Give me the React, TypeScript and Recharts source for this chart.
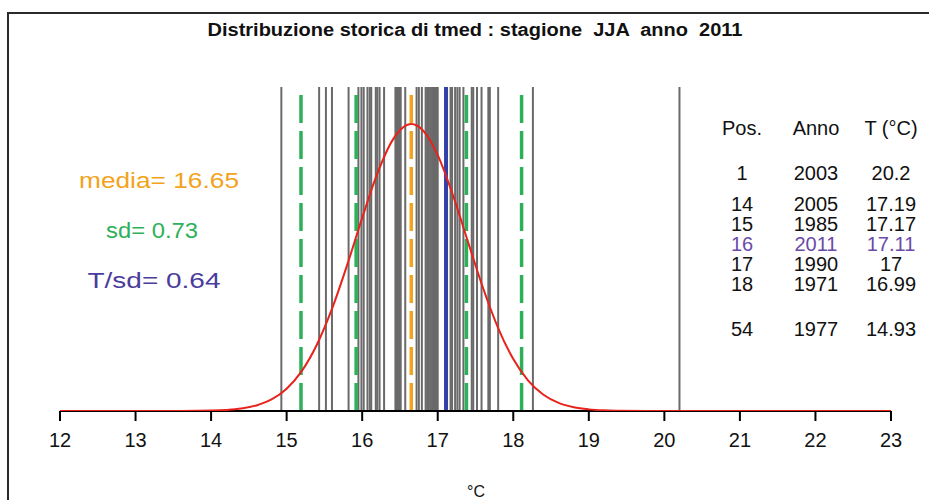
import React from 'react';
import { ComposedChart, Line, XAxis, YAxis, ReferenceLine } from 'recharts';

// Seasonal (JJA) mean temperatures, one per year (54 seasons)
const seasonTemps = [
  20.2, 18.26, 17.8, 17.69, 17.67, 17.58, 17.52, 17.47, 17.45, 17.34, 17.29, 17.26, 17.23,
  17.19, 17.17, 17.11, 17.0, 16.99,
  16.97, 16.96, 16.94, 16.93, 16.91, 16.9, 16.88, 16.86, 16.84, 16.79, 16.75, 16.72,
  16.57, 16.51, 16.5, 16.49, 16.48, 16.47, 16.46, 16.45, 16.44, 16.29, 16.23, 16.2,
  16.18, 16.12, 16.1, 16.07, 16.02, 15.99, 15.95, 15.82, 15.6, 15.52, 15.43, 14.93,
];
const meanT = 16.65;
const currentT = 17.11;
const sdLines = [15.19, 15.92, 17.38, 18.11];

// Normal density curve
const curveX = [12, 13, 13.6, 14.0, 14.2, 14.4, 14.6, 14.8, 15.0, 15.2, 15.4, 15.6, 15.8, 16.0, 16.2, 16.4, 16.6, 16.65, 16.8, 17.0, 17.2, 17.4, 17.6, 17.8, 18.0, 18.2, 18.4, 18.6, 18.8, 19.0, 19.2, 19.4, 19.8, 21, 23];
const curveDensity = [0, 0, 0.0001, 0.0008, 0.002, 0.0047, 0.0106, 0.022, 0.0425, 0.076, 0.1262, 0.1943, 0.2775, 0.3677, 0.452, 0.5154, 0.5452, 0.5465, 0.5351, 0.4872, 0.4115, 0.3224, 0.2343, 0.158, 0.0989, 0.0574, 0.0309, 0.0154, 0.0071, 0.0031, 0.0012, 0.0005, 0.0, 0, 0];

const xTicks = [12, 13, 14, 15, 16, 17, 18, 19, 20, 21, 22, 23];

const statLabels = ['media= 16.65', 'sd= 0.73', 'T/sd= 0.64'];

const tableHeader = ['Pos.', 'Anno', 'T (°C)'];
const tablePos = ['1', '14', '15', '16', '17', '18', '54'];
const tableYears = ['2003', '2005', '1985', '2011', '1990', '1971', '1977'];
const tableTemps = ['20.2', '17.19', '17.17', '17.11', '17', '16.99', '14.93'];
const highlightRow = 3;

const curveData = curveX.map((x, i) => ({ x, y: curveDensity[i] }));

const FONT = "'Liberation Sans', Arial, Helvetica, sans-serif";

// layout (styles/positions)
const statStyle = [
  { x: 159, y: 188, len: 160, color: '#f2a31b' },
  { x: 152, y: 238, len: 92, color: '#2eb05a' },
  { x: 154, y: 288, len: 133, color: '#4a3c9c' },
];
const colX = [742, 816, 891];
const rowBaselines = [180, 211, 231, 251, 271, 291, 336];

export default function App() {
  return (
    <div style={{ position: 'absolute', left: 0, top: 0, width: 929, height: 500, background: '#fff', overflow: 'hidden' }}>
      <div style={{ position: 'absolute', left: 7, top: 12, width: 930, height: 500, borderLeft: '2px solid #2a2a2a', borderTop: '2px solid #2a2a2a' }} />
      <div style={{ position: 'absolute', left: 0, top: 0 }}>
        <ComposedChart
          width={929}
          height={500}
          data={curveData}
          margin={{ top: 87, right: 38, bottom: 59, left: 60 }}
        >
          <XAxis
            dataKey="x"
            type="number"
            domain={[12, 23]}
            ticks={xTicks}
            interval={0}
            allowDataOverflow
            height={30}
            tickSize={10}
            tickMargin={12}
            axisLine={{ stroke: '#000', strokeWidth: 2 }}
            tickLine={{ stroke: '#000', strokeWidth: 2 }}
            tick={{ fill: '#111', fontSize: 20, fontFamily: FONT }}
          />
          <YAxis hide type="number" domain={[0, 0.617]} allowDataOverflow />
          {seasonTemps.map((v, i) => (
            <ReferenceLine key={'s' + i} x={v} stroke="#6a6a6a" strokeWidth={2} />
          ))}
          {sdLines.map((v, i) => (
            <ReferenceLine key={'sd' + i} x={v} stroke="#2eb05a" strokeWidth={3.5} strokeDasharray="28 8" />
          ))}
          <ReferenceLine x={meanT} stroke="#f4a41c" strokeWidth={3.5} strokeDasharray="28 8" />
          <ReferenceLine x={currentT} stroke="#3340a8" strokeWidth={4} />
          <Line
            dataKey="y"
            type="monotone"
            stroke="#e8231c"
            strokeWidth={2}
            dot={false}
            isAnimationActive={false}
            zIndex={1000}
          />
        </ComposedChart>
      </div>
      <svg width={929} height={500} style={{ position: 'absolute', left: 0, top: 0, pointerEvents: 'none' }} fontFamily={FONT}>
        <text x={475} y={36} textAnchor="middle" fontWeight="bold" fontSize={18} fill="#111" textLength={535} lengthAdjust="spacingAndGlyphs" style={{ whiteSpace: 'pre' }}>
          Distribuzione storica di tmed : stagione  JJA  anno  2011
        </text>
        {statLabels.map((s, i) => (
          <text key={s} x={statStyle[i].x} y={statStyle[i].y} textAnchor="middle" fontSize={22} fill={statStyle[i].color} textLength={statStyle[i].len} lengthAdjust="spacingAndGlyphs">
            {s}
          </text>
        ))}
        {tableHeader.map((h, i) => (
          <text key={h} x={colX[i]} y={135} textAnchor="middle" fontSize={20} fill="#111">{h}</text>
        ))}
        {tablePos.map((p, i) => {
          const color = i === highlightRow ? '#6a4aa8' : '#111';
          return (
            <g key={'r' + i} fill={color} fontSize={20}>
              <text x={colX[0]} y={rowBaselines[i]} textAnchor="middle">{p}</text>
              <text x={colX[1]} y={rowBaselines[i]} textAnchor="middle">{tableYears[i]}</text>
              <text x={colX[2]} y={rowBaselines[i]} textAnchor="middle">{tableTemps[i]}</text>
            </g>
          );
        })}
        <text x={476} y={497} textAnchor="middle" fontSize={16} fill="#111">°C</text>
      </svg>
    </div>
  );
}
